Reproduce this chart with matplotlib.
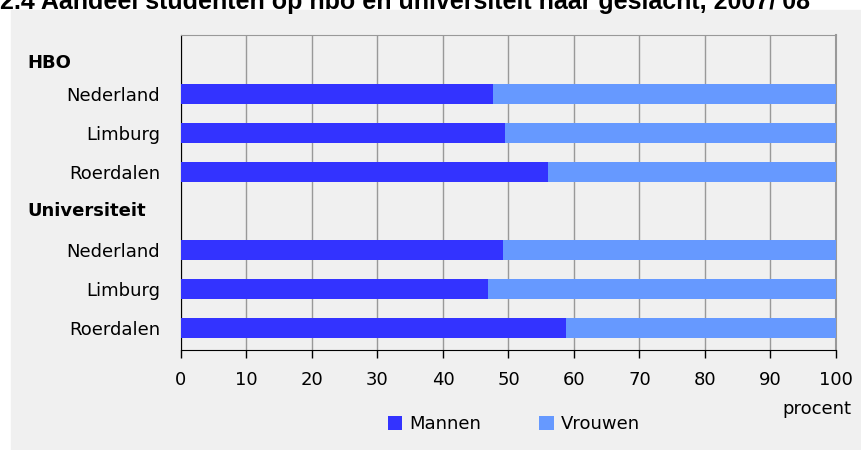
import matplotlib
matplotlib.use("Agg")
import matplotlib.pyplot as plt
from matplotlib.patches import Patch
import numpy as np

# rows top to bottom; header rows carry no bars
row_labels = ["HBO", "Nederland", "Limburg", "Roerdalen",
              "Universiteit", "Nederland", "Limburg", "Roerdalen"]
is_header = [True, False, False, False, True, False, False, False]
mannen = [None, 47.7, 49.4, 56.0, None, 49.1, 46.8, 58.8]
vrouwen = [None if m is None else 100 - m for m in mannen]

title = "2.4 Aandeel studenten op hbo en universiteit naar geslacht, 2007/'08"
series_names = ["Mannen", "Vrouwen"]
colors = ["#3333ff", "#6699ff"]
bg = "#f0f0f0"

plt.rcParams["font.family"] = ["DejaVu Sans"]

fig = plt.figure(figsize=(8.62, 4.5), dpi=100)
fig.patch.set_facecolor("white")
# grey panel behind the chart
fig.patches.append(plt.Rectangle((11 / 862, 0), 1, 1 - 10 / 450,
                                 transform=fig.transFigure, color=bg, zorder=-10))

fig.text(0.0, 1 - 9 / 450, title, fontsize=18, fontweight="bold",
         family="Liberation Sans", va="baseline", ha="left")

ax = fig.add_axes([181 / 862, 100 / 450, 655 / 862, 315 / 450])
ax.set_facecolor(bg)

y = np.arange(len(row_labels))
bar_rows = [i for i, h in enumerate(is_header) if not h]
m_vals = np.array([mannen[i] for i in bar_rows])
v_vals = np.array([vrouwen[i] for i in bar_rows])
ax.barh(y[bar_rows], m_vals, height=0.53, color=colors[0], zorder=3)
ax.barh(y[bar_rows], v_vals, left=m_vals, height=0.53, color=colors[1], zorder=3)

ax.set_xlim(0, 100)
ax.set_ylim(7.56, -0.51)
ax.set_xticks(np.arange(0, 101, 10))
ax.tick_params(axis="x", direction="out", length=6, width=1, color="black",
               labelsize=13, pad=9)
ax.xaxis.grid(True, color="#999999", linewidth=1, zorder=0)

ax.set_yticks(y[bar_rows])
ax.set_yticklabels([row_labels[i] for i in bar_rows], fontsize=13)
ax.tick_params(axis="y", length=0, pad=15)

# group headers, the first one sits a little lower than its slot
header_shift = {0: 0.2, 4: 0.0}
for i, h in enumerate(is_header):
    if h:
        ax.text(-0.235, y[i] + header_shift[i], row_labels[i],
                transform=ax.get_yaxis_transform(),
                fontsize=13, fontweight="bold", va="center", ha="left")

ax.spines["left"].set_color("black")
ax.spines["bottom"].set_color("black")
ax.spines["top"].set_color("#999999")
ax.spines["right"].set_color("#999999")
ax.spines["right"].set_linewidth(1.5)

fig.text(851 / 862, 1 - 409 / 450, "procent", fontsize=13, ha="right", va="center")

handles = [Patch(facecolor=c, edgecolor="none") for c in colors]
fig.legend(handles, series_names, loc="center", ncol=2,
           bbox_to_anchor=(514 / 862, 1 - 424 / 450), frameon=False,
           fontsize=13, handlelength=0.8, handleheight=0.8, handletextpad=0.4,
           columnspacing=3.2)

fig.savefig("out.png", dpi=100, facecolor=fig.get_facecolor())
